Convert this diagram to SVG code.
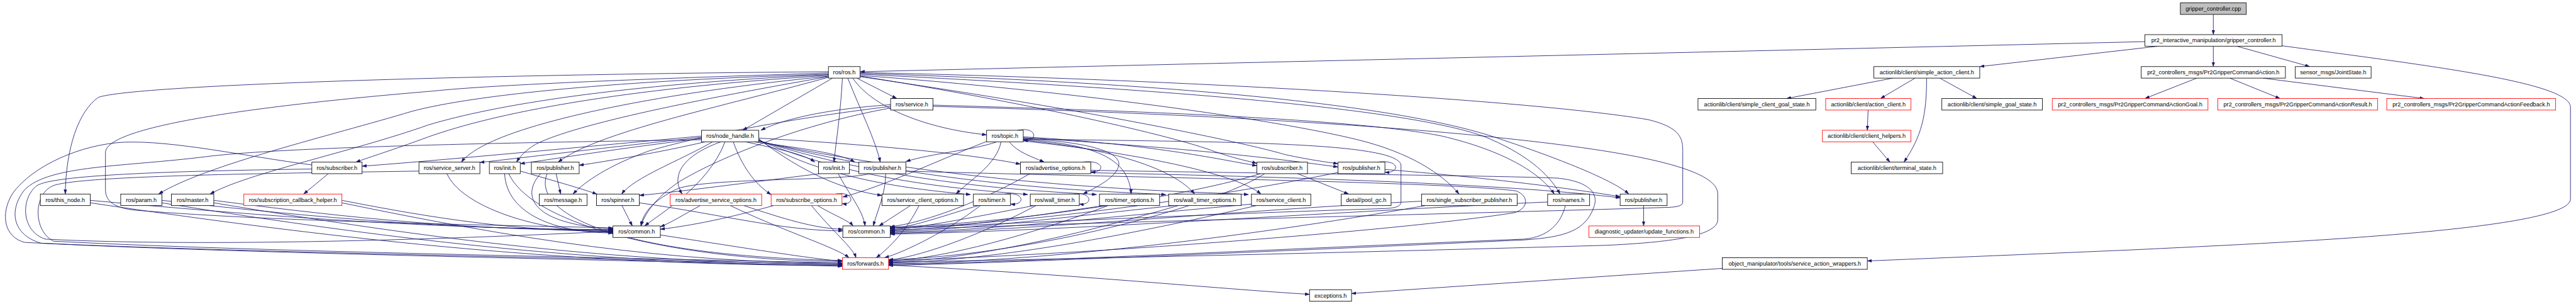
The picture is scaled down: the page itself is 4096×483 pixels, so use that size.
<svg xmlns="http://www.w3.org/2000/svg" width="4096" height="483" viewBox="0 0 4096 483">
<defs>
<style>
.n rect{fill:#fff;stroke:#000;stroke-width:1.3}
.n.r rect{stroke:#ff0000}
.n.g rect{fill:#bfbfbf}
.n text{font-family:"Liberation Sans",Arial,sans-serif;font-size:14px;text-anchor:middle;fill:#000}
.e path{fill:none;stroke:#191970;stroke-width:1.3;marker-end:url(#ah)}
</style>
<marker id="ah" viewBox="0 0 11 7.5" refX="11" refY="3.75" markerWidth="11" markerHeight="7.5" markerUnits="userSpaceOnUse" orient="auto"><path d="M0,0 L11,3.75 L0,7.5 z" fill="#191970" stroke="#191970" stroke-width="0.5"/></marker>
</defs>
<rect width="4096" height="483" fill="#fff"/>
<g transform="scale(0.655)">
<g id="edges" class="e">
<path d="M5373,35 L5373,84"/>
<path d="M5240,112 L4806,161.5"/>
<path d="M5373,112 L5373,161.5"/>
<path d="M5430,112 L5607,161.5"/>
<path d="M5207,101 C4200,125 3100,150 2088,174"/>
<path d="M5540,111 C5900,160 6240,200 6240,260 L6240,483 C6240,560 5500,590 5200,605 C4900,618 4700,626 4533,633"/>
<path d="M5333,189.5 L5207,239"/>
<path d="M5413,189.5 L5535,239"/>
<path d="M5493,189.5 L5885,239"/>
<path d="M4595,189.5 L4337,239"/>
<path d="M4649,189.5 L4565,239"/>
<path d="M4709,189.5 L4799,239"/>
<path d="M4677,189.5 C4677,280 4665,330 4622,393.3"/>
<path d="M4535,267 L4533,316"/>
<path d="M4546,344 L4588,393.3"/>
<path d="M3990,498.7 L3990,548"/>
<path d="M2157,643 C2600,665 2950,700 3179,714"/>
<path d="M4181,651 L3281,712"/>
<path d="M3150,421.3 L3274,470.7"/>
<path d="M3362,411 C3600,430 3800,455 3933,477"/>
<path d="M3345,393.3 C3398,386 3400,420 3362,418"/>
<path d="M2470,316 C2518,306 2522,344 2484,340"/>
<path d="M2028,470.7 C2074,463 2076,498 2044,494"/>
<path d="M2628,393.3 C2682,386 2684,420 2648,417"/>
<path d="M2440,470.7 C2488,464 2490,499 2453,495"/>
<path d="M2606,470.7 C2652,464 2654,499 2620,495"/>
<path d="M2021,189.5 L1803,316"/>
<path d="M2080,189.5 L2177,239"/>
<path d="M2070,189.5 C2120,262 2250,312 2395,327"/>
<path d="M2045,189.5 C2040,280 2030,340 2024.5,393.3"/>
<path d="M2058,189.5 C2090,270 2125,340 2137,393.3"/>
<path d="M2011,174 C1200,180 330,205 239,236 C190,270 160,360 158.5,470.7"/>
<path d="M2011,177 C1600,190 1200,205 1050,221 C700,250 256,300 256,370 L256,460 C256,490 280,505 330,510 C700,540 1200,545 1488,553"/>
<path d="M2011,180 C1500,195 1150,230 1000,270 C800,330 500,400 385,470.7"/>
<path d="M2011,181 C1500,205 1200,255 1040,303 C850,370 600,420 510,470.7"/>
<path d="M2011,183 C1500,215 1200,275 1040,332 C950,365 900,380 864,393.3"/>
<path d="M2011,185 C1600,225 1300,290 1180,350 C1150,365 1130,380 1120,393.3"/>
<path d="M2011,186 C1700,240 1400,300 1300,350 C1275,365 1262,380 1254,393.3"/>
<path d="M2011,187.5 C1750,260 1450,320 1355,393.3"/>
<path d="M2088,183 C2600,220 3100,290 3300,340 C3420,370 3500,420 3542,470.7"/>
<path d="M2088,180 C2800,215 3400,260 3600,330 C3700,370 3760,420 3787,470.7"/>
<path d="M2265,255 C2800,270 3300,290 3500,330 C3650,365 3740,420 3773,470.7"/>
<path d="M2088,178 C2800,200 3400,250 3650,340 C3800,390 3920,440 3954,470.7"/>
<path d="M2088,176 C2800,190 3700,240 4000,290 C4085,310 4085,340 4085,370 L4085,490 C4085,500 4070,502 4050,503 C3500,520 2600,540 2161,558"/>
<path d="M2265,258 C2800,272 3300,300 3600,330 C3900,360 4170,400 4170,470 L4170,533 C4170,580 4000,590 3900,595 C3200,615 2500,630 2157,636"/>
<path d="M2088,186 C2600,260 3000,340 3120,375 C3180,388 3220,393 3248,397"/>
<path d="M2088,184.5 C2500,250 2850,330 2950,368 C3000,385 3030,391 3051,396"/>
<path d="M2484,332 C2800,350 2950,385 3051,402"/>
<path d="M2484,334 C2900,360 3100,385 3248,405"/>
<path d="M2450,344 C2470,370 2510,382 2535,393.3"/>
<path d="M2420,344 C2360,365 2260,372 2199,392"/>
<path d="M2398,342 C2250,400 2150,450 2046,478"/>
<path d="M2430,344 C2420,400 2350,440 2321,470.7"/>
<path d="M2484,336 C2650,345 2720,370 2716,400 C2712,430 2660,455 2629,470.7"/>
<path d="M2484,338 C2650,350 2740,380 2746,470.7"/>
<path d="M2484,340 C2700,360 2850,410 2900,470.7"/>
<path d="M2484,342 C2750,370 3000,420 3061,470.7"/>
<path d="M2484,337 C2900,345 3390,340 3401,400 L3401,490 C3401,503 3380,505 3360,506 C2900,520 2400,545 2161,554"/>
<path d="M1703,330 C1400,358 1000,395 879,403"/>
<path d="M1703,333 C1450,360 1250,385 1165,394"/>
<path d="M1703,336 C1500,360 1350,385 1263,397"/>
<path d="M1712,344 C1600,370 1480,390 1406,401"/>
<path d="M1730,344 C1650,390 1540,430 1509,470.7"/>
<path d="M1750,344 C1650,380 1630,430 1656,470.7"/>
<path d="M1780,344 C1800,400 1830,445 1872,472"/>
<path d="M1810,344 C1880,360 1950,372 1978,393.3"/>
<path d="M1830,344 C1950,360 2040,372 2075,393.3"/>
<path d="M1842,335 C2100,350 2350,372 2477,398"/>
<path d="M1842,337 C1950,420 2050,462 2141,474"/>
<path d="M1842,339 C2000,440 2250,462 2356,472"/>
<path d="M1842,340 C2100,450 2400,462 2495,472"/>
<path d="M1842,341 C2200,455 2550,464 2662,472"/>
<path d="M1842,342 C2300,458 2700,464 2830,472"/>
<path d="M1842,343 C2400,460 2900,464 3031,472"/>
<path d="M1760,344 C1720,450 1600,520 1565,548"/>
<path d="M1703,339 C1300,345 700,355 500,380 C300,405 120,400 60,460 C20,510 30,570 100,590 C600,615 1500,630 2045,646"/>
<path d="M757,400 C600,380 420,340 300,345 C200,350 80,400 30,470 C0,520 10,575 60,588 C500,610 1500,628 2045,642"/>
<path d="M757,410 C400,415 130,425 90,450 C50,480 50,560 110,580 C500,600 1100,580 1488,561"/>
<path d="M797,421.3 L737,470.7"/>
<path d="M1017,415 C700,420 200,425 130,450 C80,470 80,560 130,585 C600,610 1500,625 2045,638"/>
<path d="M1085,421.3 C1120,500 1300,563 1488,563"/>
<path d="M1225,421.3 C1230,520 1350,565 1488,565"/>
<path d="M1235,421.3 C1300,560 1700,634 2045,634"/>
<path d="M1263,415 C1350,440 1420,460 1449,471"/>
<path d="M1350,421.3 L1361,470.7"/>
<path d="M1312,421.3 C1260,480 1300,545 1488,555"/>
<path d="M1328,421.3 C1290,520 1500,620 2045,632"/>
<path d="M219,486 C663,526 1044,555 1488,557"/>
<path d="M219,492 C858,586 1406,644 2045,644"/>
<path d="M393,486 C776,529 1105,557 1488,558"/>
<path d="M393,492 C971,585 1467,642 2045,643"/>
<path d="M519,486 C858,530 1149,559 1488,559"/>
<path d="M519,492 C1053,581 1511,640 2045,640"/>
<path d="M830,486 C1060,531 1258,561 1488,561"/>
<path d="M830,492 C1255,580 1620,638 2045,638"/>
<path d="M1510,498.7 L1535,548"/>
<path d="M1552,492 C1750,520 1900,560 2046,560"/>
<path d="M1700,498.7 C1660,520 1630,540 1603,550"/>
<path d="M1773,498.7 C1900,560 2030,600 2061,625.3"/>
<path d="M1806,498.7 C1900,530 1980,555 2046,556"/>
<path d="M1878,498.7 C1800,520 1700,545 1603,556"/>
<path d="M1970,498.7 C2020,560 2070,600 2078,625.3"/>
<path d="M1985,498.7 C2020,520 2060,535 2071,548"/>
<path d="M2210,498.7 L2134,548"/>
<path d="M2231,498.7 C2200,560 2160,600 2127,625.3"/>
<path d="M2375,498.7 C2300,520 2220,550 2161,555"/>
<path d="M2380,498.7 C2300,560 2200,610 2147,625.3"/>
<path d="M2510,498.7 C2400,520 2250,550 2161,558"/>
<path d="M2515,498.7 C2400,560 2250,620 2157,631"/>
<path d="M2680,498.7 C2500,525 2300,555 2161,560"/>
<path d="M2690,498.7 C2500,570 2300,625 2157,634"/>
<path d="M2850,498.7 C2600,525 2350,557 2161,562"/>
<path d="M2860,498.7 C2600,575 2350,630 2157,636"/>
<path d="M3040,495 C2700,525 2400,560 2161,564"/>
<path d="M3050,498.7 C2700,580 2400,632 2157,638"/>
<path d="M3451,488 C3000,510 2500,560 2161,566"/>
<path d="M3460,498.7 C3000,580 2500,636 2157,640"/>
<path d="M3757,490 C3300,510 2600,560 2161,568"/>
<path d="M3800,498.7 C3790,540 3760,575 3700,580 C3200,600 2500,635 2157,642"/>
<path d="M3250,418 C3000,470 2500,545 2161,553"/>
<path d="M3060,421.3 C2900,470 2500,540 2161,551"/>
<path d="M3070,421.3 C2950,500 2500,620 2157,630"/>
<path d="M2110,421.3 C2050,440 1700,430 1640,460 C1580,490 1560,520 1556,548"/>
<path d="M2199,415 C2700,430 3500,440 3680,463 C3712,475 3712,505 3676,516 C3400,560 2600,620 2157,632"/>
<path d="M2648,413 C3000,420 3600,425 3780,432 C3860,440 3880,470 3870,500 C3850,560 3800,575 3700,582 C3200,605 2500,636 2157,644"/>
<path d="M2648,419 C3200,430 3700,450 3933,480"/>
<path d="M2500,421.3 C2400,480 2250,540 2161,550"/>
<path d="M1990,421.3 C1800,445 1650,465 1552,474"/>
<path d="M2035,421.3 C2060,470 2095,510 2100,548"/>
<path d="M2162,254 C2000,265 1900,290 1847,316"/>
<path d="M2162,258 C1900,290 1700,330 1576,366 C1480,400 1420,440 1391,470.7"/>
<path d="M2162,262 C1950,300 1750,380 1650,440 C1590,480 1565,520 1556,548"/>
<path d="M1603,570 C1800,600 1950,625 2045,634"/>
<path d="M2150,421.3 C2150,470 2130,510 2120,548"/>
</g>
<g id="nodes">
<g id="gripper_controller_cpp" class="n g"><rect x="5293" y="7" width="160" height="28"/><text x="5373" y="26">gripper_controller.cpp</text></g>
<g id="gripper_controller_h" class="n"><rect x="5207" y="84" width="333" height="28"/><text x="5373.5" y="103">pr2_interactive_manipulation/gripper_controller.h</text></g>
<g id="ros_ros_h" class="n"><rect x="2011" y="161.5" width="77" height="28"/><text x="2049.5" y="180.5">ros/ros.h</text></g>
<g id="simple_action_client_h" class="n"><rect x="4549" y="161.5" width="257" height="28"/><text x="4677.5" y="180.5">actionlib/client/simple_action_client.h</text></g>
<g id="Pr2GripperCommandAction_h" class="n"><rect x="5198" y="161.5" width="350" height="28"/><text x="5373" y="180.5">pr2_controllers_msgs/Pr2GripperCommandAction.h</text></g>
<g id="JointState_h" class="n"><rect x="5572" y="161.5" width="184" height="28"/><text x="5664" y="180.5">sensor_msgs/JointState.h</text></g>
<g id="ros_service_h" class="n"><rect x="2162" y="239" width="103" height="28"/><text x="2213.5" y="258">ros/service.h</text></g>
<g id="simple_client_goal_state_h" class="n"><rect x="4122" y="239" width="286" height="28"/><text x="4265" y="258">actionlib/client/simple_client_goal_state.h</text></g>
<g id="action_client_h" class="n r"><rect x="4432" y="239" width="207" height="28"/><text x="4535.5" y="258">actionlib/client/action_client.h</text></g>
<g id="simple_goal_state_h" class="n"><rect x="4714" y="239" width="244" height="28"/><text x="4836" y="258">actionlib/client/simple_goal_state.h</text></g>
<g id="ActionGoal_h" class="n r"><rect x="4982" y="239" width="378" height="28"/><text x="5171" y="258">pr2_controllers_msgs/Pr2GripperCommandActionGoal.h</text></g>
<g id="ActionResult_h" class="n r"><rect x="5384" y="239" width="388" height="28"/><text x="5578" y="258">pr2_controllers_msgs/Pr2GripperCommandActionResult.h</text></g>
<g id="ActionFeedback_h" class="n r"><rect x="5794" y="239" width="410" height="28"/><text x="5999" y="258">pr2_controllers_msgs/Pr2GripperCommandActionFeedback.h</text></g>
<g id="ros_node_handle_h" class="n"><rect x="1703" y="316" width="139" height="28"/><text x="1772.5" y="335">ros/node_handle.h</text></g>
<g id="ros_topic_h" class="n"><rect x="2395" y="316" width="89" height="28"/><text x="2439.5" y="335">ros/topic.h</text></g>
<g id="client_helpers_h" class="n r"><rect x="4424" y="316" width="215" height="28"/><text x="4531.5" y="335">actionlib/client/client_helpers.h</text></g>
<g id="ros_subscriber_h_1" class="n"><rect x="757" y="393.3" width="122" height="28"/><text x="818" y="412.3">ros/subscriber.h</text></g>
<g id="ros_service_server_h" class="n"><rect x="1017" y="393.3" width="148" height="28"/><text x="1091" y="412.3">ros/service_server.h</text></g>
<g id="ros_init_h_1" class="n"><rect x="1188" y="393.3" width="75" height="28"/><text x="1225.5" y="412.3">ros/init.h</text></g>
<g id="ros_publisher_h_1" class="n"><rect x="1290" y="393.3" width="116" height="28"/><text x="1348" y="412.3">ros/publisher.h</text></g>
<g id="ros_init_h_2" class="n"><rect x="1987" y="393.3" width="75" height="28"/><text x="2024.5" y="412.3">ros/init.h</text></g>
<g id="ros_publisher_h_2" class="n"><rect x="2085" y="393.3" width="114" height="28"/><text x="2142" y="412.3">ros/publisher.h</text></g>
<g id="ros_advertise_options_h" class="n"><rect x="2477" y="393.3" width="171" height="28"/><text x="2562.5" y="412.3">ros/advertise_options.h</text></g>
<g id="ros_subscriber_h_2" class="n"><rect x="3051" y="393.3" width="123" height="28"/><text x="3112.5" y="412.3">ros/subscriber.h</text></g>
<g id="ros_publisher_h_3" class="n"><rect x="3248" y="393.3" width="114" height="28"/><text x="3305" y="412.3">ros/publisher.h</text></g>
<g id="terminal_state_h" class="n"><rect x="4494" y="393.3" width="222" height="28"/><text x="4605" y="412.3">actionlib/client/terminal_state.h</text></g>
<g id="ros_this_node_h" class="n"><rect x="98" y="470.7" width="121" height="28"/><text x="158.5" y="489.7">ros/this_node.h</text></g>
<g id="ros_param_h" class="n"><rect x="293" y="470.7" width="100" height="28"/><text x="343" y="489.7">ros/param.h</text></g>
<g id="ros_master_h" class="n"><rect x="416" y="470.7" width="103" height="28"/><text x="467.5" y="489.7">ros/master.h</text></g>
<g id="ros_subscription_callback_helper_h" class="n r"><rect x="592" y="470.7" width="238" height="28"/><text x="711" y="489.7">ros/subscription_callback_helper.h</text></g>
<g id="ros_message_h" class="n"><rect x="1309" y="470.7" width="116" height="28"/><text x="1367" y="489.7">ros/message.h</text></g>
<g id="ros_spinner_h" class="n"><rect x="1448" y="470.7" width="104" height="28"/><text x="1500" y="489.7">ros/spinner.h</text></g>
<g id="ros_advertise_service_options_h" class="n r"><rect x="1627" y="470.7" width="222" height="28"/><text x="1738" y="489.7">ros/advertise_service_options.h</text></g>
<g id="ros_subscribe_options_h" class="n r"><rect x="1872" y="470.7" width="172" height="28"/><text x="1958" y="489.7">ros/subscribe_options.h</text></g>
<g id="ros_service_client_options_h" class="n"><rect x="2141" y="470.7" width="198" height="28"/><text x="2240" y="489.7">ros/service_client_options.h</text></g>
<g id="ros_timer_h" class="n"><rect x="2363" y="470.7" width="90" height="28"/><text x="2408" y="489.7">ros/timer.h</text></g>
<g id="ros_wall_timer_h" class="n"><rect x="2501" y="470.7" width="119" height="28"/><text x="2560.5" y="489.7">ros/wall_timer.h</text></g>
<g id="ros_timer_options_h" class="n"><rect x="2669" y="470.7" width="146" height="28"/><text x="2742" y="489.7">ros/timer_options.h</text></g>
<g id="ros_wall_timer_options_h" class="n"><rect x="2837" y="470.7" width="176" height="28"/><text x="2925" y="489.7">ros/wall_timer_options.h</text></g>
<g id="ros_service_client_h" class="n"><rect x="3038" y="470.7" width="144" height="28"/><text x="3110" y="489.7">ros/service_client.h</text></g>
<g id="detail_pool_gc_h" class="n"><rect x="3256" y="470.7" width="121" height="28"/><text x="3316.5" y="489.7">detail/pool_gc.h</text></g>
<g id="ros_single_subscriber_publisher_h" class="n"><rect x="3451" y="470.7" width="232" height="28"/><text x="3567" y="489.7">ros/single_subscriber_publisher.h</text></g>
<g id="ros_names_h" class="n"><rect x="3757" y="470.7" width="102" height="28"/><text x="3808" y="489.7">ros/names.h</text></g>
<g id="ros_publisher_h_4" class="n"><rect x="3933" y="470.7" width="114" height="28"/><text x="3990" y="489.7">ros/publisher.h</text></g>
<g id="ros_common_h_1" class="n"><rect x="1488" y="548" width="115" height="28"/><text x="1545.5" y="567">ros/common.h</text></g>
<g id="ros_common_h_2" class="n"><rect x="2046" y="548" width="115" height="28"/><text x="2103.5" y="567">ros/common.h</text></g>
<g id="update_functions_h" class="n r"><rect x="3857" y="548" width="269" height="28"/><text x="3991.5" y="567">diagnostic_updater/update_functions.h</text></g>
<g id="ros_forwards_h" class="n r"><rect x="2045" y="625.3" width="112" height="28"/><text x="2101" y="644.3">ros/forwards.h</text></g>
<g id="service_action_wrappers_h" class="n"><rect x="4181" y="625.3" width="352" height="28"/><text x="4357" y="644.3">object_manipulator/tools/service_action_wrappers.h</text></g>
<g id="exceptions_h" class="n"><rect x="3179" y="702.7" width="102" height="28"/><text x="3230" y="721.7">exceptions.h</text></g>
</g>
</g>
</svg>
